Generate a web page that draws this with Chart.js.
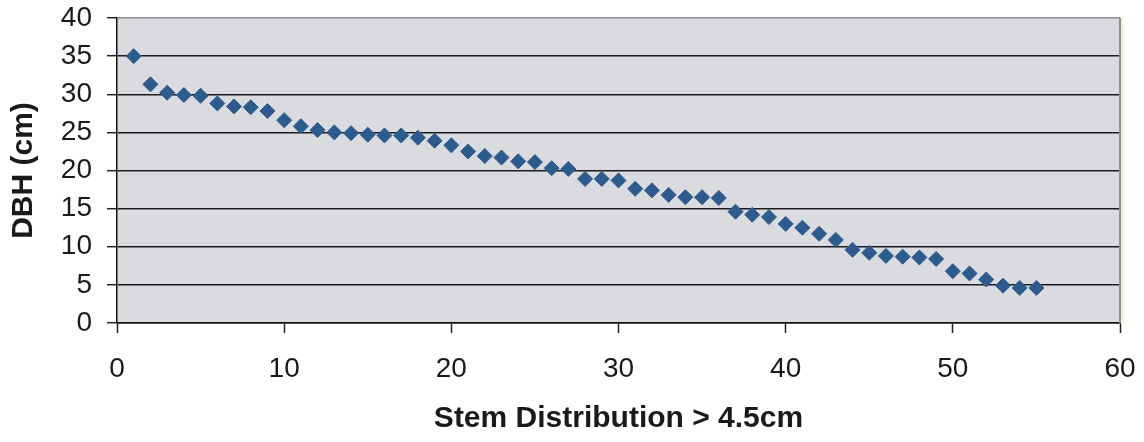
<!DOCTYPE html>
<html>
<head>
<meta charset="utf-8">
<script src="https://cdn.jsdelivr.net/npm/chart.js@4/dist/chart.umd.min.js"></script>
<style>
  html, body { margin: 0; padding: 0; background: #fff; }
  #wrap { width: 1144px; height: 442px; }
</style>
</head>
<body>
<div id="wrap"><canvas id="dbhChart" width="1144" height="442"></canvas></div>
<script>
// Stem number (1..55) and measured diameter at breast height, largest first
const stems = [
    1, 2, 3, 4, 5, 6, 7, 8, 9, 10,
    11, 12, 13, 14, 15, 16, 17, 18, 19, 20,
    21, 22, 23, 24, 25, 26, 27, 28, 29, 30,
    31, 32, 33, 34, 35, 36, 37, 38, 39, 40,
    41, 42, 43, 44, 45, 46, 47, 48, 49, 50,
    51, 52, 53, 54, 55
];
const dbh = [
    35.0, 31.3, 30.2, 29.9, 29.8, 28.8, 28.4, 28.3, 27.8, 26.6,
    25.8, 25.3, 25.0, 24.9, 24.7, 24.6, 24.6, 24.3, 23.9, 23.3,
    22.5, 21.9, 21.7, 21.2, 21.1, 20.3, 20.2, 18.9, 18.9, 18.7,
    17.6, 17.4, 16.8, 16.5, 16.5, 16.4, 14.6, 14.2, 13.9, 13.0,
    12.5, 11.7, 10.9, 9.6, 9.2, 8.8, 8.7, 8.6, 8.4, 6.8,
    6.5, 5.7, 4.9, 4.6, 4.6
];
const xTicks = [0, 10, 20, 30, 40, 50, 60];
const yTicks = [0, 5, 10, 15, 20, 25, 30, 35, 40];

const points = stems.map((s, i) => ({ x: s, y: dbh[i] }));

// grey plot area with a blue-grey frame on the right
const plotArea = {
    id: 'plotArea',
    beforeDraw(chart) {
        const { ctx, chartArea: a } = chart;
        ctx.save();
        ctx.fillStyle = '#d9dbdf';
        ctx.fillRect(a.left, a.top, a.right - a.left, a.bottom - a.top);
        ctx.restore();
    },
    afterDatasetsDraw(chart) {
        const { ctx, chartArea: a } = chart;
        ctx.save();
        ctx.strokeStyle = '#8a8fae';
        ctx.lineWidth = 2;
        ctx.beginPath();
        ctx.moveTo(a.right, a.top);
        ctx.lineTo(a.right, a.bottom);
        ctx.stroke();
        ctx.strokeStyle = 'rgba(245, 236, 150, 0.7)';
        ctx.lineWidth = 2;
        ctx.beginPath();
        ctx.moveTo(a.right + 2, a.top);
        ctx.lineTo(a.right + 2, a.bottom);
        ctx.stroke();
        ctx.restore();
    }
};

const ctx = document.getElementById('dbhChart').getContext('2d');

new Chart(ctx, {
    type: 'scatter',
    data: {
        datasets: [{
            label: 'DBH',
            data: points,
            pointStyle: 'rectRot',
            pointRadius: 7.5,
            pointBorderWidth: 1,
            backgroundColor: '#2d5b8e',
            borderColor: '#2d5b8e'
        }]
    },
    options: {
        responsive: false,
        animation: false,
        layout: { padding: { top: 18, right: 24, left: 0, bottom: 0 } },
        plugins: {
            legend: { display: false },
            tooltip: { enabled: false }
        },
        scales: {
            x: {
                type: 'linear',
                min: 0,
                max: 60,
                afterBuildTicks: (s) => { s.ticks = xTicks.map(v => ({ value: v })); },
                afterFit: (s) => {
                    s.height = 119;
                    s.paddingLeft = 0;
                    s.paddingRight = 0;
                },
                border: { color: '#111', width: 1.5 },
                grid: {
                    drawOnChartArea: false,
                    drawTicks: true,
                    tickLength: 10,
                    tickColor: '#222',
                    tickWidth: 1.5
                },
                ticks: {
                    color: '#1a1a1a',
                    padding: 19,
                    maxRotation: 0,
                    autoSkip: false,
                    font: { family: 'Liberation Sans, Arial, sans-serif', size: 28 }
                },
                title: {
                    display: true,
                    text: 'Stem Distribution > 4.5cm',
                    color: '#1a1a1a',
                    padding: { top: 0, bottom: 5 },
                    font: { family: 'Liberation Sans, Arial, sans-serif', size: 30, weight: 'bold' }
                }
            },
            y: {
                type: 'linear',
                min: 0,
                max: 40,
                afterBuildTicks: (s) => { s.ticks = yTicks.map(v => ({ value: v })); },
                afterFit: (s) => {
                    s.width = 117;
                    s.paddingTop = 0;
                    s.paddingBottom = 0;
                },
                border: { color: '#111', width: 1.5 },
                grid: {
                    color: (c) => c.tick && c.tick.value === 40 ? '#8c8c8c' : '#1c1c1c',
                    lineWidth: 1.4,
                    drawTicks: true,
                    tickLength: 10,
                    tickColor: '#222',
                    tickWidth: 1.5
                },
                ticks: {
                    color: '#1a1a1a',
                    padding: 15,
                    autoSkip: false,
                    font: { family: 'Liberation Sans, Arial, sans-serif', size: 28 }
                },
                title: {
                    display: true,
                    text: 'DBH (cm)',
                    color: '#1a1a1a',
                    padding: { top: 6, bottom: 0 },
                    font: { family: 'Liberation Sans, Arial, sans-serif', size: 30, weight: 'bold' }
                }
            }
        }
    },
    plugins: [plotArea]
});
</script>
</body>
</html>
